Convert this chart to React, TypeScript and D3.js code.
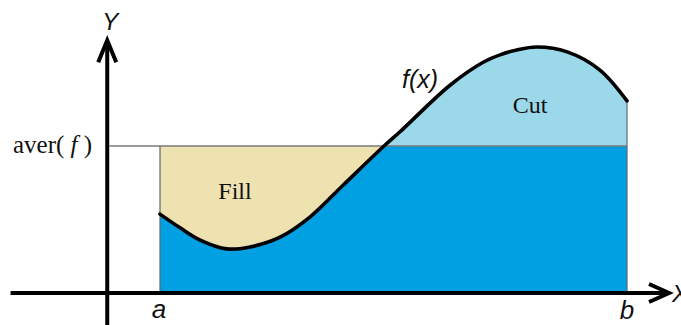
import React from "react";
import * as d3 from "d3";

// Sampled f(x) on [a, b] (a = 0, b = 10)
const xs = [0, 0.43, 0.86, 1.43, 1.93, 2.57, 3.21, 3.92, 4.82, 5.14, 6.21, 6.92, 7.28, 7.64, 8.07, 8.72, 9.42, 10];
const fx = [1.61, 1.33, 1.08, 0.9, 0.94, 1.14, 1.55, 2.2, 3.02, 3.29, 4.24, 4.71, 4.86, 4.96, 5.02, 4.92, 4.55, 3.92];
const aver = 3.0;
const aVal = 0;
const bVal = 10;
const axisOriginX = -1.13;
const xAxisExtent = [-3.2, 10.9];
const yAxisExtent = [-0.7, 5.18];
const regionLabels = ["Fill", "Cut"];

const W = 681;
const H = 325;

export default function App() {
  const x = d3.scaleLinear().domain([0, 10]).range([160, 627]);
  const y = d3.scaleLinear().domain([0, 3]).range([293, 146]);
  const pts: [number, number][] = xs.map((v, i) => [v, fx[i]]);
  const curve = d3.curveCatmullRom.alpha(0.5);

  const line = d3
    .line<[number, number]>()
    .x((d) => x(d[0]))
    .y((d) => y(d[1]))
    .curve(curve);
  const areaBelow = d3
    .area<[number, number]>()
    .x((d) => x(d[0]))
    .y0(y(0))
    .y1((d) => y(d[1]))
    .curve(curve);
  const areaAbove = d3
    .area<[number, number]>()
    .x((d) => x(d[0]))
    .y0(y(aver))
    .y1((d) => y(d[1]))
    .curve(curve);

  const x0 = x(aVal);
  const x1 = x(bVal);
  const yA = y(aver);
  const y0 = y(0);
  const axX = x(axisOriginX);
  const yAxTop = y(yAxisExtent[1]);
  const xAxRight = x(xAxisExtent[1]);

  const italicSans = "'Liberation Sans', Arial, sans-serif";
  const serif = "'Liberation Serif', 'Times New Roman', serif";

  return (
    <svg width={W} height={H} style={{ position: "absolute", left: 0, top: 0, background: "#fff" }}>
      <defs>
        <clipPath id="below">
          <rect x={x0} y={yA} width={x1 - x0} height={y0 - yA} />
        </clipPath>
        <clipPath id="above">
          <rect x={x0} y={0} width={x1 - x0} height={yA} />
        </clipPath>
      </defs>
      {/* Fill region background */}
      <rect x={x0} y={yA} width={x1 - x0} height={y0 - yA} fill="#EDE2B0" />
      {/* Area under min(f, aver) */}
      <path d={areaBelow(pts) || ""} fill="#00A0E3" clipPath="url(#below)" />
      {/* Cut region */}
      <path d={areaAbove(pts) || ""} fill="#9BD8EA" clipPath="url(#above)" />
      {/* thin outlines */}
      <line x1={axX + 2} x2={x1} y1={yA} y2={yA} stroke="#7a7a7a" strokeWidth={1.3} />
      <line x1={x0} x2={x0} y1={yA} y2={y0} stroke="#5a6a70" strokeWidth={1.2} />
      <line x1={x1} x2={x1} y1={y(fx[fx.length - 1])} y2={y0} stroke="#5a6a70" strokeWidth={1.2} />
      {/* curve */}
      <path d={line(pts) || ""} fill="none" stroke="#000" strokeWidth={3.6} strokeLinecap="round" />
      {/* axes */}
      <line x1={x(xAxisExtent[0])} x2={xAxRight - 2} y1={y0} y2={y0} stroke="#000" strokeWidth={4} />
      <line x1={axX} x2={axX} y1={y(yAxisExtent[0]) + 10} y2={yAxTop + 2} stroke="#000" strokeWidth={4} />
      <polyline
        points={`${axX - 9},${yAxTop + 23} ${axX},${yAxTop + 1} ${axX + 9},${yAxTop + 23}`}
        fill="none"
        stroke="#000"
        strokeWidth={4}
        strokeLinejoin="miter"
      />
      <polyline
        points={`${xAxRight - 20},${y0 - 9} ${xAxRight},${y0} ${xAxRight - 20},${y0 + 9}`}
        fill="none"
        stroke="#000"
        strokeWidth={4}
        strokeLinejoin="miter"
      />
      {/* labels */}
      <text x={axX + 3} y={30} fontFamily={italicSans} fontStyle="italic" fontSize={24} textAnchor="middle" fill="#111">
        Y
      </text>
      <text x={xAxRight + 3} y={y0 + 9} fontFamily={italicSans} fontStyle="italic" fontSize={24} fill="#111">
        X
      </text>
      <text x={x0 - 1} y={318} fontFamily={italicSans} fontStyle="italic" fontSize={26} textAnchor="middle" fill="#111">
        a
      </text>
      <text x={x1} y={319} fontFamily={italicSans} fontStyle="italic" fontSize={26} textAnchor="middle" fill="#111">
        b
      </text>
      <text x={402} y={88} fontFamily={italicSans} fontStyle="italic" fontSize={25} fill="#111">
        f(x)
      </text>
      <text x={13} y={153} fontFamily={serif} fontSize={25} fill="#111">
        aver(
        <tspan fontStyle="italic"> f </tspan>)
      </text>
      <text x={235} y={199} fontFamily={serif} fontSize={24} textAnchor="middle" fill="#111">
        {regionLabels[0]}
      </text>
      <text x={530} y={113} fontFamily={serif} fontSize={24} textAnchor="middle" fill="#111">
        {regionLabels[1]}
      </text>
    </svg>
  );
}
